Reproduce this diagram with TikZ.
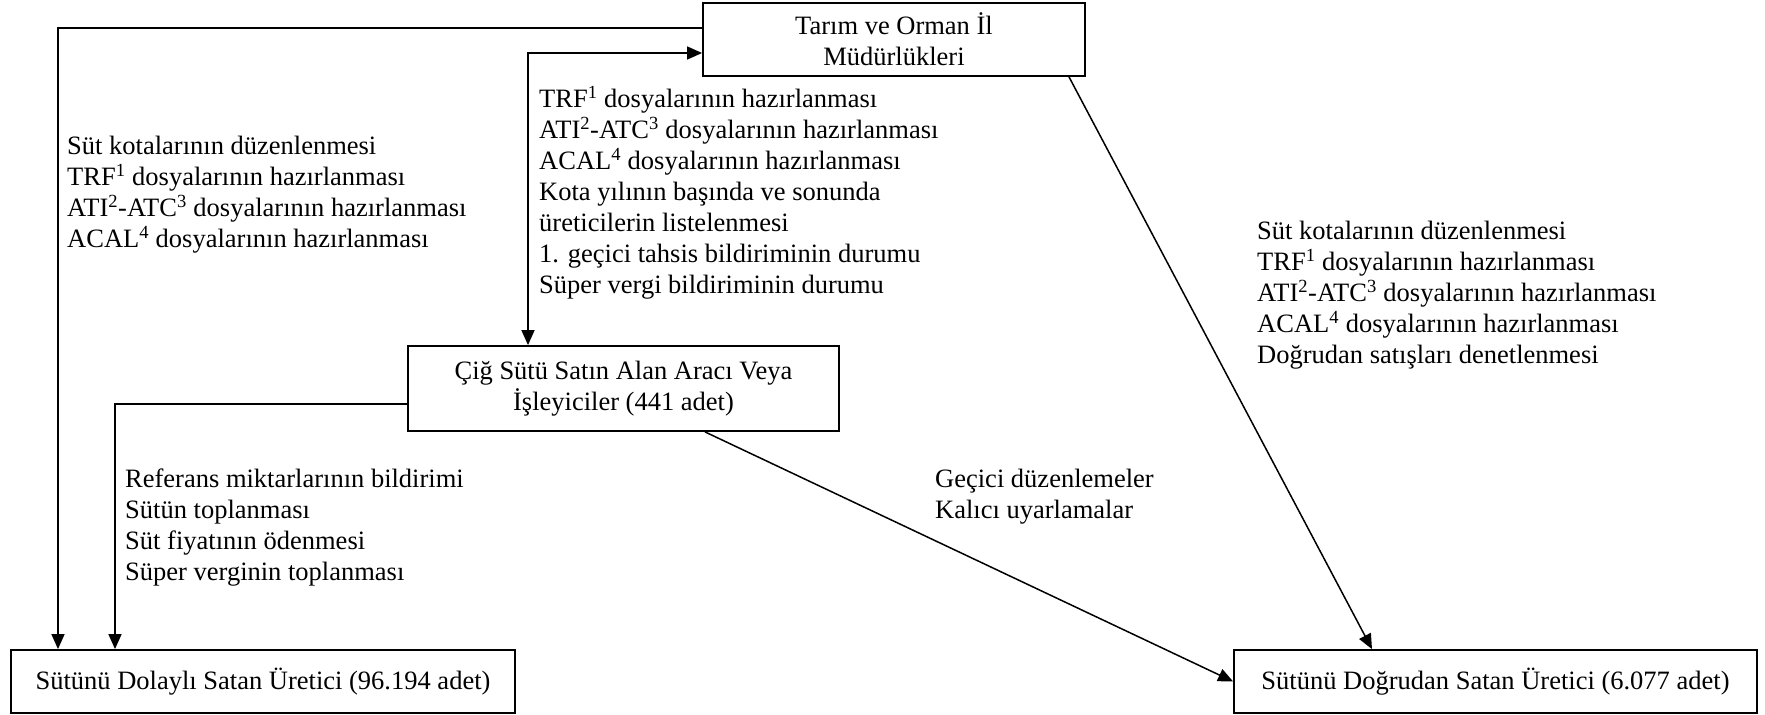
\documentclass[tikz,border=0pt]{standalone}
\usepackage{fontspec}
\setmainfont{Liberation Serif}
\usetikzlibrary{positioning,arrows.meta}

\begin{document}
\begin{tikzpicture}[x=1pt,y=-1pt,>={Triangle[length=15pt,width=13pt]},
  every node/.style={font=\fontsize{26.5}{31}\selectfont},
  kutu/.style={draw,line width=1.8pt,align=center,inner sep=0pt},
  metin/.style={align=left,anchor=north west,inner sep=0pt,execute at begin node=\strut},
  oku/.style={line width=1.5pt}]
  \useasboundingbox (0,0) rectangle (1765,715);
  % kutular
  \node[kutu,minimum width=382pt,minimum height=73pt] (tarim) at (894,39.5) {Tarım ve Orman İl\\Müdürlükleri};
  \node[kutu,minimum width=431pt,minimum height=85pt] (islem) at (623.5,388.5) {Çiğ Sütü Satın Alan Aracı Veya\\İşleyiciler (441 adet)};
  \node[kutu,minimum width=504pt,minimum height=63pt] (dolayli) at (263,681.5) {Sütünü Dolaylı Satan Üretici (96.194 adet)};
  \node[kutu,minimum width=523pt,minimum height=63pt] (dogrudan) at (1495.5,681.5) {Sütünü Doğrudan Satan Üretici (6.077 adet)};
  % kose noktalari
  \coordinate (k1) at (58,28);
  \coordinate (k2) at (528,53);
  \coordinate (k3) at (115,404);
  \coordinate (d1) at (1069,0);
  \coordinate (d2) at (1372,0);
  \coordinate (d3) at (705,0);
  % baglantilar
  \draw[oku,->] (tarim.west |- k1) -- (k1) -- (k1 |- dolayli.north);
  \draw[oku,<->] (islem.north -| k2) -- (k2) -- (tarim.west |- k2);
  \draw[oku,->] (islem.west |- k3) -- (k3) -- (k3 |- dolayli.north);
  \draw[oku,->] (tarim.south -| d1) -- (dogrudan.north -| d2);
  \draw[oku,->] (islem.south -| d3) -- (dogrudan.west);
  % aciklamalar
  \node[metin] (sol) at (67,136) {Süt kotalarının düzenlenmesi\\TRF\textsuperscript{1} dosyalarının hazırlanması\\ATI\textsuperscript{2}-ATC\textsuperscript{3} dosyalarının hazırlanması\\ACAL\textsuperscript{4} dosyalarının hazırlanması};
  \node[metin] (orta) at (539,86) {TRF\textsuperscript{1} dosyalarının hazırlanması\\ATI\textsuperscript{2}-ATC\textsuperscript{3} dosyalarının hazırlanması\\ACAL\textsuperscript{4} dosyalarının hazırlanması\\Kota yılının başında ve sonunda\\üreticilerin listelenmesi\\1. geçici tahsis bildiriminin durumu\\Süper vergi bildiriminin durumu};
  \node[metin] (sag) at (1257,221) {Süt kotalarının düzenlenmesi\\TRF\textsuperscript{1} dosyalarının hazırlanması\\ATI\textsuperscript{2}-ATC\textsuperscript{3} dosyalarının hazırlanması\\ACAL\textsuperscript{4} dosyalarının hazırlanması\\Doğrudan satışları denetlenmesi};
  \node[metin] (alt) at (125,469) {Referans miktarlarının bildirimi\\Sütün toplanması\\Süt fiyatının ödenmesi\\Süper verginin toplanması};
  \node[metin] (duzen) at (935,469) {Geçici düzenlemeler\\Kalıcı uyarlamalar};
\end{tikzpicture}
\end{document}
